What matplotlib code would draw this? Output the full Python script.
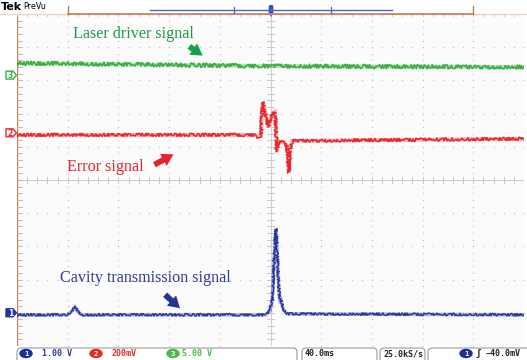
import numpy as np
import matplotlib
matplotlib.use('Agg')
import matplotlib.pyplot as plt
from matplotlib.patches import Polygon, FancyBboxPatch, Ellipse, FancyArrowPatch

# escalas do osciloscópio (horizontal em ms, vertical em divisões)
t_div = 40.0                     # ms/div
ch1_scale, ch2_scale, ch3_scale = 1.0, 0.2, 5.0      # V/div
ch1_offset, ch2_offset, ch3_offset = -4.0, 1.42, 3.16  # div

# canal 3 - laser driver (V)
laser_t = [-200, -100, 0, 100, 200]
laser_v = [1.81, 1.58, 1.36, 1.28, 1.20]

# canal 2 - error signal (V)
err_t = [-200, -12.2, -9.9, -7.5, -6.7, -5.9, -4.3, -2.0, 0.4, 2.0, 3.6, 4.3,
         5.1, 5.9, 9.1, 11.4, 13.0, 14.6, 15.4, 17.0, 200]
err_v = [-0.012, -0.012, -0.024, -0.018, 0.151, 0.187, 0.127, 0.036, 0.090, 0.120,
         0.127, 0.018, -0.114, -0.060, -0.054, -0.060, -0.084, -0.241, -0.102,
         -0.048, -0.036]

# canal 1 - transmissão da cavidade (V)
cav_t = [-200, -159.8, -156.6, -154.2, -151.9, -148.7, -3.6, -0.4, 1.2, 2.0, 2.8,
         3.6, 4.3, 5.1, 5.9, 6.7, 7.5, 8.3, 9.9, 13.0, 200]
cav_v = [-0.06, -0.06, 0.06, 0.18, 0.03, -0.06, -0.06, 0.06, 0.36, 0.81, 1.51,
         2.17, 2.53, 2.02, 1.27, 0.66, 0.36, 0.39, 0.12, -0.03, -0.06]

verde = '#3bb143'
vermelho = '#e8262c'
azul = '#27339a'

fig = plt.figure(figsize=(5.27, 3.6), dpi=100)
fig.patch.set_facecolor('white')
ax = fig.add_axes([17 / 527, 14 / 360, 507 / 527, 332 / 360])
ax.set_xlim(-5 * t_div, 5 * t_div)
ax.set_ylim(-5, 5)
ax.set_facecolor('#fbfbfb')
for s in ax.spines.values():
    s.set_visible(False)
ax.set_xticks([])
ax.set_yticks([])

# grelha pontilhada
gcol = '#c4c4c4'
dots_y = np.arange(-5, 5.01, 0.2)
dots_x = np.arange(-200, 200.1, t_div / 5)
for k in range(-4, 5):
    if k == 0:
        continue
    ax.plot(np.full_like(dots_y, k * t_div), dots_y, ls='none', marker='s', ms=0.9,
            mew=0, color=gcol, zorder=1)
    ax.plot(dots_x, np.full_like(dots_x, k), ls='none', marker='s', ms=0.9,
            mew=0, color=gcol, zorder=1)

# eixos centrais com marcas
ax.axhline(0, color='#cfcfcf', lw=0.8, zorder=1)
ax.axvline(0, color='#cfcfcf', lw=0.8, zorder=1)
for x in dots_x:
    ax.plot([x, x], [-0.09, 0.09], color='#c8c8c8', lw=0.7, zorder=1)
for y in dots_y:
    ax.plot([-3, 3], [y, y], color='#c8c8c8', lw=0.7, zorder=1)

# bordo esquerdo e superior
ax.axvline(-200, color='#b9835c', lw=1.0, zorder=2)
for y in dots_y:
    ax.plot([-200, -196], [y, y], color='#d2a88a', lw=0.6, zorder=2)
for x in dots_x:
    ax.plot([x, x], [5, 4.93], color='#d9b8a0', lw=0.6, zorder=2)


def traco(t, v, scale, offset, cor, ruido, lw):
    y = offset + np.asarray(v) / scale
    ax.plot(t, y, color=cor, lw=lw + 1.6, alpha=0.35, zorder=3,
            solid_joinstyle='miter')
    ln, = ax.plot(t, y, color=cor, lw=lw, zorder=4)
    ln.set_sketch_params(scale=ruido, length=1.5, randomness=3)
    return ln


traco(laser_t, laser_v, ch3_scale, ch3_offset, verde, 2.0, 1.2)
traco(err_t, err_v, ch2_scale, ch2_offset, vermelho, 1.6, 1.1)
traco(cav_t, cav_v, ch1_scale, ch1_offset, azul, 1.3, 1.0)

# etiquetas e setas
serif = 'Liberation Serif'
ax.text(-155.8, 4.40, 'Laser driver signal', color='#1c9a48', family=serif,
        fontsize=11.6, ha='left', va='center', zorder=6)
ax.text(-160.6, 0.39, 'Error signal', color='#e5262d', family=serif,
        fontsize=11.6, ha='left', va='center', zorder=6)
ax.text(-166.0, -2.95, 'Cavity transmission signal', color='#2f3a9c', family=serif,
        fontsize=11.6, ha='left', va='center', zorder=6)


def seta(p0, p1, cor):
    a = FancyArrowPatch(p0, p1, arrowstyle='simple,head_length=0.75,head_width=0.9,tail_width=0.38',
                        mutation_scale=11, color=cor, lw=0, zorder=6)
    ax.add_patch(a)


seta((-65.9, 4.07), (-51.7, 3.70), '#14a04a')
seta((-93.5, 0.42), (-74.6, 0.81), '#e8222a')
seta((-84.8, -3.40), (-69.8, -3.92), '#223590')

# camada de interface em píxeis
ov = fig.add_axes([0, 0, 1, 1], zorder=5)
ov.set_xlim(0, 527)
ov.set_ylim(360, 0)
ov.axis('off')
ov.patch.set_alpha(0)

# barra superior
ov.text(1, 7, 'Tek', fontsize=8, fontweight='bold', va='center', ha='left')
ov.text(23, 6.5, 'PreVu', fontsize=5.8, va='center', ha='left')
ov.plot([0, 527], [14, 14], color='#e8d6c8', lw=1.0)
ov.plot([68, 473], [14, 14], color='#b9825c', lw=1.2)
ov.plot([68, 68], [6, 14], color='#b9825c', lw=1.0)
ov.plot([473, 473], [6, 14], color='#b9825c', lw=1.0)
ov.plot([150, 392], [10, 10], color='#5062cc', lw=1.0)
for x in (234, 331):
    ov.plot([x, x], [7, 13], color='#5062cc', lw=0.9)
ov.add_patch(FancyBboxPatch((269.5, 6), 3, 7, boxstyle='round,pad=0.4,rounding_size=1.2',
                            fc='#3556c8', ec='#1e3aa0', lw=0.6))
ov.add_patch(Polygon([(268.5, 13), (273.5, 13), (271, 17)], closed=True,
                     fc='#3556c8', ec='none'))


def marcador(y, num, cor, cheio):
    pts = [(6, y - 4), (13, y - 4), (16.5, y), (13, y + 4), (6, y + 4)]
    ov.add_patch(Polygon(pts, closed=True, fc=cor if cheio else 'white', ec=cor, lw=1.0))
    ov.text(10.5, y + 0.3, num, color='white' if cheio else cor, fontsize=5.5,
            fontweight='bold', ha='center', va='center')


def y_px(off):
    return 360 - ax.transData.transform((0, off))[1]


fig.canvas.draw()
marcador(y_px(ch3_offset), '3', verde, False)
marcador(y_px(ch2_offset), '2', vermelho, False)
marcador(y_px(ch1_offset), '1', azul, True)

# barra inferior
mono = 'DejaVu Sans Mono'
for x0, w in ((17, 280), (302, 75), (380, 45), (428, 110)):
    ov.add_patch(FancyBboxPatch((x0, 348), w, 20, boxstyle='round,pad=0,rounding_size=4',
                                fc='white', ec='#9a9a9a', lw=0.8))


def badge(x, num, cor):
    ov.add_patch(Ellipse((x, 353.5), 12, 8, fc=cor, ec=cor))
    ov.text(x, 353.8, num, color='white', fontsize=5.2, fontweight='bold',
            ha='center', va='center', family=mono)


badge(26, '1', '#1d2f8f')
ov.text(42, 353.8, '1.00 V', color='#2b3a9a', fontsize=6, fontweight='bold', va='center', family=mono)
badge(96, '2', '#e42a2a')
ov.text(112, 353.8, '200mV', color='#e42a2a', fontsize=6, fontweight='bold', va='center', family=mono)
badge(173, '3', '#4cb848')
ov.text(182, 353.8, '5.00 V', color='#4cb848', fontsize=6, fontweight='bold', va='center', family=mono)
ov.text(305, 353.8, '40.0ms', color='#222222', fontsize=6, fontweight='bold', va='center', family=mono)
ov.text(383, 353.8, '25.0kS/s', color='#222222', fontsize=6, fontweight='bold', va='center', family=mono)
badge(466, '1', '#1d2f8f')
ov.text(476, 353.8, '\u0283', color='#222222', fontsize=6.5, fontweight='bold', va='center', family=mono)
ov.text(486, 353.8, '\u221240.0mV', color='#222222', fontsize=6, fontweight='bold', va='center', family=mono)

fig.savefig('out.png', dpi=100, facecolor='white')
